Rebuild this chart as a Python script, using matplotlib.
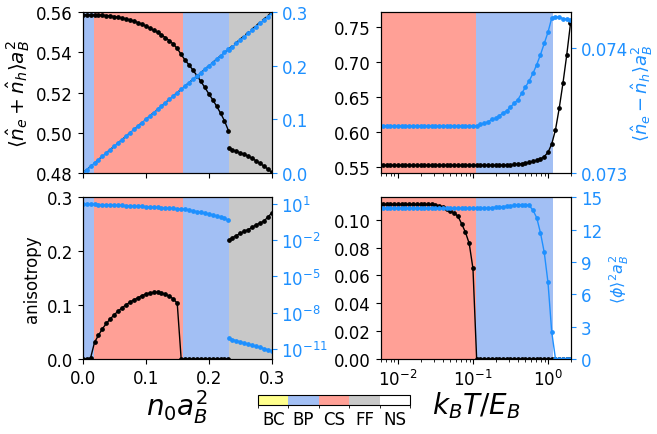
import numpy as np
import matplotlib
matplotlib.use("Agg")
import matplotlib.pyplot as plt
import matplotlib as mpl
from matplotlib.colors import ListedColormap, BoundaryNorm
from matplotlib.ticker import NullLocator, FixedLocator

BLUE = "#1e90ff"
phase_names = ["BC", "BP", "CS", "FF", "NS"]
phase_colors = ["#ffff8c", "#a2bff4", "#ffa096", "#c8c8c8", "#ffffff"]

# ---------------- density sweep (left column) ----------------
n0 = [0.0, 0.00625, 0.0125, 0.01875, 0.025, 0.03125, 0.0375, 0.04375, 0.05, 0.05625,
      0.0625, 0.06875, 0.075, 0.08125, 0.0875, 0.09375, 0.1, 0.10625, 0.1125, 0.11875,
      0.125, 0.13125, 0.1375, 0.14375, 0.15, 0.15625, 0.1625, 0.16875, 0.175, 0.18125,
      0.1875, 0.19375, 0.2, 0.20625, 0.2125, 0.21875, 0.225, 0.23125]
n0_ff = [0.2325, 0.2375, 0.24375, 0.25, 0.25625, 0.2625, 0.26875, 0.275, 0.28125,
         0.2875, 0.29375, 0.3]

ntot = [0.5588, 0.5588, 0.5588, 0.5587, 0.5587, 0.5586, 0.5584, 0.5582, 0.5579, 0.5576,
        0.5572, 0.5567, 0.5562, 0.5556, 0.5549, 0.5541, 0.5532, 0.5522, 0.5511, 0.5500,
        0.5488, 0.5474, 0.5459, 0.5442, 0.5420, 0.5390, 0.5362, 0.5338, 0.5312, 0.5285,
        0.5256, 0.5226, 0.5195, 0.5165, 0.5133, 0.5098, 0.5060, 0.5011]
ntot_ff = [0.4923, 0.4915, 0.4908, 0.4900, 0.4893, 0.4884, 0.4873, 0.4861, 0.4848,
           0.4835, 0.4820, 0.4803]

ndiff = [0.0, 0.00625, 0.0125, 0.01875, 0.025, 0.03125, 0.0375, 0.04375, 0.05, 0.05625,
         0.0625, 0.06875, 0.075, 0.08125, 0.0875, 0.09375, 0.1, 0.10625, 0.1125, 0.11875,
         0.125, 0.13125, 0.1375, 0.14375, 0.15, 0.15625, 0.1625, 0.16875, 0.175, 0.18125,
         0.1875, 0.19375, 0.2, 0.20625, 0.2125, 0.21875, 0.225, 0.23125]
ndiff_ff = [0.2305, 0.2355, 0.2418, 0.248, 0.2543, 0.2605, 0.2668, 0.273, 0.2793,
            0.2855, 0.2918, 0.298]
n0_ref = [0.0, 0.3]

aniso = [0.0, 0.0, 0.002, 0.031, 0.044, 0.056, 0.066, 0.0745, 0.082, 0.089,
         0.095, 0.1005, 0.1055, 0.1098, 0.1135, 0.1175, 0.1205, 0.1224, 0.1237, 0.1238,
         0.1226, 0.1200, 0.1165, 0.1115, 0.1035, 0.0, 0.0, 0.0, 0.0, 0.0,
         0.0, 0.0, 0.0, 0.0, 0.0, 0.0, 0.0, 0.0]
aniso_ff = [0.221, 0.225, 0.229, 0.233, 0.237, 0.240, 0.244, 0.249, 0.252, 0.256,
            0.263, 0.271]

phi2_n = [9.55, 9.44, 9.33, 9.12, 8.91, 8.71, 8.51, 8.32, 8.04, 7.76,
          7.50, 7.24, 7.00, 6.76, 6.53, 6.24, 5.96, 5.69, 5.43, 5.13,
          4.79, 4.57, 4.37, 4.17, 3.98, 3.76, 3.47, 3.09, 2.69, 2.29,
          2.00, 1.70, 1.45, 1.23, 1.02, 0.83, 0.63, 0.44]
phi2_n_ff = [7.6e-11, 6.1e-11, 4.9e-11, 4.0e-11, 3.2e-11, 2.6e-11, 2.1e-11, 1.7e-11,
             1.37e-11, 1.1e-11, 8.9e-12, 7.2e-12]

# phase bands along n0: (start, end, phase index)
bands_n = [(0.0, 0.0012, 0), (0.0012, 0.018, 1), (0.018, 0.159, 2),
           (0.159, 0.232, 1), (0.232, 0.3, 3)]

# ---------------- temperature sweep (right column) ----------------
T = [0.00631, 0.00708, 0.00794, 0.00891, 0.0100, 0.0112, 0.0126, 0.0141, 0.0158, 0.0178,
     0.0200, 0.0224, 0.0251, 0.0282, 0.0316, 0.0355, 0.0398, 0.0447, 0.0501, 0.0562,
     0.0631, 0.0708, 0.0794, 0.0891, 0.100, 0.112, 0.126, 0.141, 0.158, 0.178,
     0.200, 0.224, 0.251, 0.282, 0.316, 0.355, 0.398, 0.447, 0.501, 0.562,
     0.631, 0.708, 0.794, 0.891, 1.000, 1.122, 1.259, 1.413, 1.585, 1.778, 1.995]

ntot_T = [0.5520, 0.5520, 0.5520, 0.5520, 0.5520, 0.5520, 0.5520, 0.5520, 0.5520, 0.5520,
          0.5520, 0.5520, 0.5520, 0.5520, 0.5520, 0.5520, 0.5520, 0.5520, 0.5520, 0.5520,
          0.5520, 0.5520, 0.5520, 0.5520, 0.5520, 0.5520, 0.5520, 0.5520, 0.5520, 0.5520,
          0.5520, 0.5521, 0.5523, 0.5525, 0.5528, 0.5532, 0.5537, 0.5544, 0.5552, 0.5562,
          0.5575, 0.5591, 0.5612, 0.5645, 0.5705, 0.5825, 0.6030, 0.6340, 0.6700, 0.7100,
          0.7550]

ndiff_T = [0.07338, 0.07338, 0.07338, 0.07338, 0.07338, 0.07338, 0.07338,
           0.07338, 0.07338, 0.07338, 0.07338, 0.07338, 0.07338, 0.07338, 0.07338,
           0.07338, 0.07338, 0.07338, 0.07338, 0.07338, 0.07338, 0.07338, 0.07338,
           0.07338, 0.07338, 0.07338, 0.07339, 0.07340, 0.07341, 0.07343, 0.07344,
           0.07346, 0.07348, 0.07350, 0.07353, 0.07356, 0.07359, 0.07364, 0.07369,
           0.07374, 0.07380, 0.07387, 0.07395, 0.07404, 0.07413, 0.074245, 0.074255,
           0.07425, 0.07424, 0.074235, 0.07423]

aniso_T = [0.1110, 0.1110, 0.1110, 0.1110, 0.1110, 0.1110, 0.1110, 0.1110, 0.1110, 0.1110,
           0.1110, 0.1110, 0.1110, 0.1110, 0.1106, 0.1100, 0.1092, 0.1078, 0.1063, 0.1048,
           0.1025, 0.0970, 0.0910, 0.0830, 0.0650, 0.0, 0.0, 0.0, 0.0, 0.0,
           0.0, 0.0, 0.0, 0.0, 0.0, 0.0, 0.0, 0.0, 0.0, 0.0,
           0.0, 0.0, 0.0, 0.0, 0.0, 0.0, 0.0, 0.0, 0.0, 0.0, 0.0]

phi2_T = [13.98, 13.98, 13.98, 13.98, 13.98, 13.98, 13.98, 13.98, 13.98, 13.98,
          13.98, 13.98, 13.98, 13.98, 13.98, 13.98, 13.98, 13.98, 13.98, 13.98,
          13.98, 13.98, 13.98, 13.98, 13.98, 13.98, 13.99, 14.00, 14.02, 14.04,
          14.07, 14.10, 14.14, 14.18, 14.22, 14.26, 14.29, 14.31, 14.31, 14.25,
          13.80, 13.10, 11.70, 9.90, 7.10, 2.50, 0.0, 0.0, 0.0, 0.0, 0.0]

bands_T = [(0.005, 0.11, 2), (0.11, 1.155, 1)]

# ---------------- figure ----------------
plt.rcParams["font.size"] = 12
fig = plt.figure(figsize=(6.57, 4.35), dpi=100)

ax_tl = fig.add_axes([0.1259, 0.600, 0.2877, 0.3694])
ax_bl = fig.add_axes([0.1259, 0.1724, 0.2877, 0.3717], sharex=ax_tl)
ax_tr = fig.add_axes([0.5795, 0.600, 0.2897, 0.3694])
ax_br = fig.add_axes([0.5795, 0.1724, 0.2897, 0.3717], sharex=ax_tr)

for ax in (ax_tl, ax_bl):
    for a, b, k in bands_n:
        ax.axvspan(a, b, color=phase_colors[k], lw=0, zorder=0)
for ax in (ax_tr, ax_br):
    for a, b, k in bands_T:
        ax.axvspan(a, b, color=phase_colors[k], lw=0, zorder=0)

mk = dict(marker="o", ms=2.4, lw=1.0)

# top-left
ax_tl.plot(n0, ntot, color="black", **mk)
ax_tl.plot(n0_ff, ntot_ff, color="black", **mk)
ax_tl.set_xlim(0, 0.3)
ax_tl.set_ylim(0.48, 0.56)
ax_tl.set_yticks([0.48, 0.50, 0.52, 0.54, 0.56])
ax_tl.set_ylabel(r"$\langle\hat{n}_e+\hat{n}_h\rangle a_B^2$", fontsize=14.5)
ax_tl.yaxis.set_label_coords(-0.27, 0.5)
ax_tl.tick_params(labelbottom=False)
tl2 = ax_tl.twinx()
tl2.plot(n0_ref, n0_ref, color="black", ls="--", lw=1.0)
tl2.plot(n0, ndiff, color=BLUE, **mk)
tl2.plot(n0_ff, ndiff_ff, color=BLUE, **mk)
tl2.set_ylim(0, 0.3)
tl2.set_yticks([0.0, 0.1, 0.2, 0.3])
tl2.tick_params(axis="y", colors=BLUE)

# bottom-left
ax_bl.plot(n0, aniso, color="black", **mk)
ax_bl.plot(n0_ff, aniso_ff, color="black", **mk)
ax_bl.set_ylim(0, 0.3)
ax_bl.set_yticks([0.0, 0.1, 0.2, 0.3])
ax_bl.set_xticks([0.0, 0.1, 0.2, 0.3])
ax_bl.set_ylabel("anisotropy")
ax_bl.set_xlabel(r"$n_0a_B^2$", fontsize=20, labelpad=0)
bl2 = ax_bl.twinx()
bl2.plot(n0, phi2_n, color=BLUE, **mk)
bl2.plot(n0_ff, phi2_n_ff, color=BLUE, **mk)
bl2.set_yscale("log")
bl2.set_ylim(1.5e-12, 35)
bl2.yaxis.set_major_locator(FixedLocator([1e1, 1e-2, 1e-5, 1e-8, 1e-11]))
bl2.yaxis.set_minor_locator(NullLocator())
bl2.tick_params(axis="y", colors=BLUE)

# top-right
ax_tr.plot(T, ntot_T, color="black", **mk)
ax_tr.set_xscale("log")
ax_tr.set_xlim(0.0059, 2.03)
ax_tr.set_ylim(0.541, 0.771)
ax_tr.set_yticks([0.55, 0.60, 0.65, 0.70, 0.75])
ax_tr.tick_params(labelbottom=False)
tr2 = ax_tr.twinx()
tr2.plot(T, ndiff_T, color=BLUE, **mk)
tr2.set_ylim(0.073, 0.07429)
tr2.set_yticks([0.073, 0.074])
tr2.tick_params(axis="y", colors=BLUE)
tr2.set_ylabel(r"$\langle\hat{n}_e-\hat{n}_h\rangle a_B^2$", color=BLUE, fontsize=13)
tr2.yaxis.set_label_coords(1.305, 0.5)

# bottom-right
ax_br.plot(T, aniso_T, color="black", **mk)
ax_br.set_ylim(0, 0.1161)
ax_br.set_yticks([0.0, 0.02, 0.04, 0.06, 0.08, 0.10])
ax_br.set_xlabel(r"$k_BT/E_B$", fontsize=20, labelpad=0)
br2 = ax_br.twinx()
br2.plot(T, phi2_T, color=BLUE, **mk)
br2.set_ylim(0, 15)
br2.set_yticks([0, 3, 6, 9, 12, 15])
br2.tick_params(axis="y", colors=BLUE)
br2.set_ylabel(r"$\langle\phi\rangle^2a_B^2$", color=BLUE, fontsize=11.5)

# phase colour legend
cax = fig.add_axes([0.3927, 0.0667, 0.2314, 0.0237])
cmap = ListedColormap(phase_colors)
norm = BoundaryNorm(np.arange(len(phase_names) + 1), cmap.N)
cb = mpl.colorbar.ColorbarBase(cax, cmap=cmap, norm=norm, orientation="horizontal",
                               ticks=np.arange(len(phase_names)) + 0.5)
cb.set_ticklabels(phase_names)
cax.tick_params(length=0, labelsize=12)

fig.savefig("out.png", dpi=100)
